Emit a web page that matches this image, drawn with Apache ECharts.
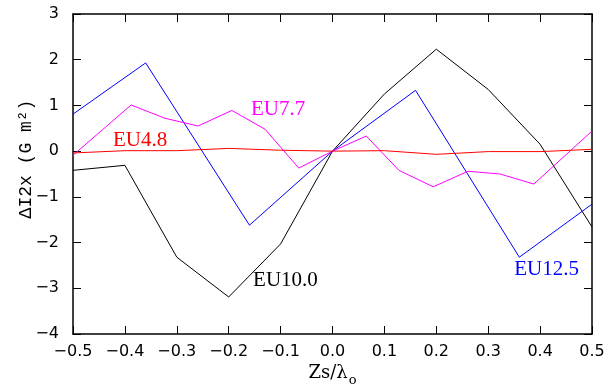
<!DOCTYPE html>
<html>
<head>
<meta charset="utf-8">
<script src="https://cdn.jsdelivr.net/npm/echarts@6/dist/echarts.min.js"></script>
<style>html,body{margin:0;padding:0;background:#fff}#c{width:611px;height:388px}</style>
</head>
<body>
<div id="c"></div>
<script>
// EU10.0 (black)
const blackX = [-0.5, -0.4, -0.3, -0.2, -0.1, 0, 0.1, 0.2, 0.3, 0.4, 0.5];
const blackY = [-0.42, -0.31, -2.32, -3.19, -2.03, 0, 1.25, 2.23, 1.35, 0.15, -1.66];
// EU12.5 (blue)
const blueX = [-0.5, -0.36, -0.16, 0, 0.16, 0.36, 0.5];
const blueY = [0.81, 1.93, -1.62, 0, 1.33, -2.32, -1.16];
// EU7.7 (magenta)
const magX = [-0.5, -0.388, -0.323, -0.259, -0.194, -0.13, -0.065, 0, 0.065, 0.128, 0.194, 0.261, 0.323, 0.388, 0.5];
const magY = [-0.09, 1.01, 0.72, 0.55, 0.89, 0.48, -0.37, 0, 0.33, -0.42, -0.78, -0.44, -0.5, -0.72, 0.44];
// EU4.8 (red)
const redX = [-0.5, -0.4, -0.3, -0.2, -0.1, 0, 0.1, 0.2, 0.3, 0.4, 0.5];
const redY = [-0.04, 0.01, 0.01, 0.06, 0.02, 0, 0.01, -0.07, -0.01, -0.01, 0.04];

const seriesNames = ['EU10.0', 'EU12.5', 'EU7.7', 'EU4.8'];
const seriesColors = ['#000000', '#0000ff', '#ff00ff', '#ff0000'];
// label anchor positions (data coords)
const labelX = [-0.153, 0.350, -0.157, -0.423];
const labelY = [-2.84, -2.58, 0.91, 0.24];

const xTicks = { min: -0.5, max: 0.5, interval: 0.1 };
const yTicks = { min: -4, max: 3, interval: 1 };

const allX = [blackX, blueX, magX, redX];
const allY = [blackY, blueY, magY, redY];

const fmt = (v, d) => {
  const s = Math.abs(v) < 1e-9 ? (0).toFixed(d) : v.toFixed(d);
  return s.replace('-', '\u2212');
};

const tickStyle = { show: true, inside: true, length: 8, lineStyle: { color: '#000', width: 1 } };
const lineStyleAxis = { show: true, onZero: false, lineStyle: { color: '#000', width: 1.5 } };

const chart = echarts.init(document.getElementById('c'), null, { renderer: 'canvas' });
chart.setOption({
  animation: false,
  backgroundColor: '#fff',
  grid: { left: 73, right: 19, top: 14, bottom: 54, containLabel: false, outerBoundsMode: 'none' },
  xAxis: [{
    type: 'value', min: xTicks.min, max: xTicks.max, interval: xTicks.interval,
    axisLine: lineStyleAxis, axisTick: tickStyle, splitLine: { show: false },
    axisLabel: { formatter: v => fmt(v, 1), fontFamily: 'DejaVu Sans', fontSize: 16, color: '#000', margin: 10 },
    name: 'Zs/\u03bb{sub|o}', nameLocation: 'middle', nameGap: 26, nameMoveOverlap: false,
    nameTextStyle: { fontFamily: 'DejaVu Serif', fontSize: 18, color: '#000',
      rich: { sub: { fontFamily: 'DejaVu Serif', fontSize: 13, color: '#000', verticalAlign: 'bottom', padding: [14, 0, 0, 1] } } }
  }, {
    type: 'value', position: 'top', min: xTicks.min, max: xTicks.max, interval: xTicks.interval,
    axisLine: lineStyleAxis, axisTick: tickStyle, axisLabel: { show: false }, splitLine: { show: false }
  }],
  yAxis: [{
    type: 'value', min: yTicks.min, max: yTicks.max, interval: yTicks.interval,
    axisLine: lineStyleAxis, axisTick: tickStyle, splitLine: { show: false },
    axisLabel: { formatter: v => fmt(v, 0), fontFamily: 'DejaVu Sans', fontSize: 16, color: '#000', margin: 14 },
    name: '\u0394I2x (G m\u00b2)', nameLocation: 'middle', nameGap: 38, nameRotate: 90, nameMoveOverlap: false,
    nameTextStyle: { fontFamily: 'Liberation Mono', fontSize: 18, color: '#000', padding: [0, 0, 0, 30] }
  }, {
    type: 'value', position: 'right', min: yTicks.min, max: yTicks.max, interval: yTicks.interval,
    axisLine: lineStyleAxis, axisTick: tickStyle, axisLabel: { show: false }, splitLine: { show: false }
  }],
  series: seriesNames.map((n, i) => ({
    name: n, type: 'line', symbol: 'none', silent: true,
    data: allX[i].map((x, k) => [x, allY[i][k]]),
    lineStyle: { color: seriesColors[i], width: 1 },
    markPoint: {
      symbol: 'circle', symbolSize: 0, silent: true,
      data: [{ coord: [labelX[i], labelY[i]], value: n }],
      label: { show: true, position: 'right', distance: 0, formatter: n, color: seriesColors[i],
        fontFamily: 'Liberation Serif', fontSize: 21, align: 'left', verticalAlign: 'middle' }
    }
  }))
});
</script>
</body>
</html>
